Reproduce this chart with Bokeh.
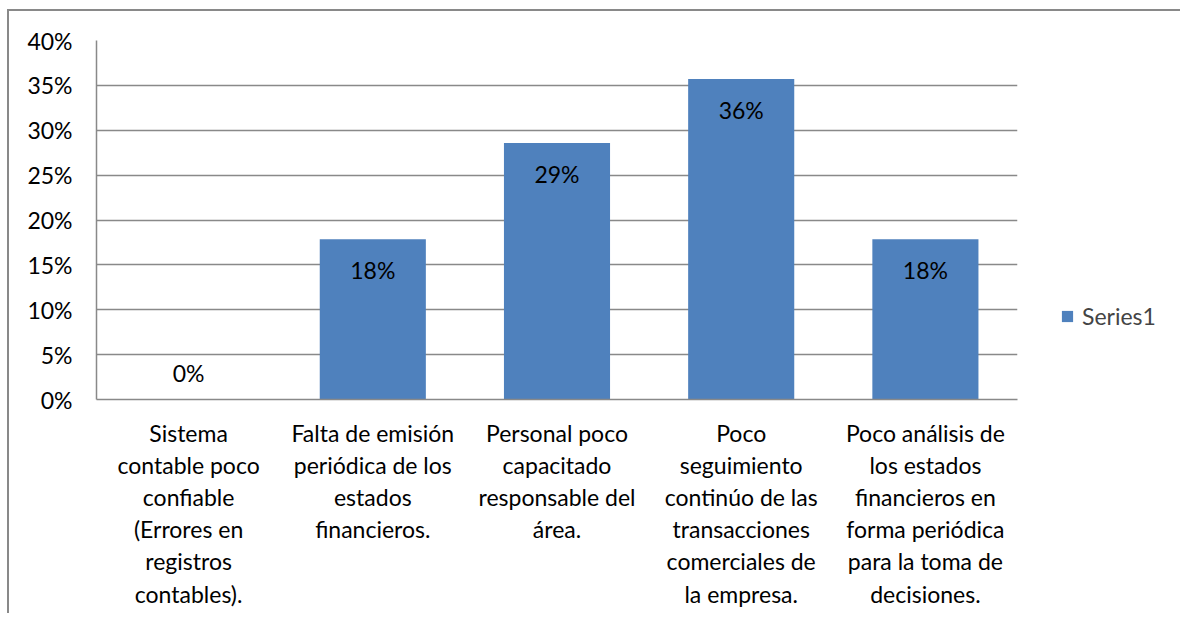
from bokeh.plotting import figure
from bokeh.models import (ColumnDataSource, FactorRange, FixedTicker, NumeralTickFormatter,
                          Legend, LegendItem, LabelSet)
from bokeh.embed import file_html
from bokeh.resources import INLINE
from bokeh.core.properties import value

categories = [
    "Sistema\ncontable poco\nconfiable\n(Errores en\nregistros\ncontables).",
    "Falta de emisión\nperiódica de los\nestados\nfinancieros.",
    "Personal poco\ncapacitado\nresponsable del\nárea.",
    "Poco\nseguimiento\ncontinúo de las\ntransacciones\ncomerciales de\nla empresa.",
    "Poco análisis de\nlos estados\nfinancieros en\nforma periódica\npara la toma de\ndecisiones.",
]
values = [0.0, 0.1786, 0.2857, 0.3571, 0.1786]
labels = ["0%", "18%", "29%", "36%", "18%"]
y_ticks = [0, 0.05, 0.10, 0.15, 0.20, 0.25, 0.30, 0.35, 0.40]
series_name = "Series1"

FONT = "Lato"
FS = "23px"
BAR = "#4F81BD"
GRID = "#898989"

src = ColumnDataSource(dict(
    x=categories, top=values, label=labels,
    yoff=[27 if v < 0.03 else -31 for v in values],
))

p = figure(x_range=FactorRange(*categories, range_padding=0), y_range=(0, 0.4),
           frame_width=921, frame_height=359, output_backend="svg", toolbar_location=None,
           min_border_left=96, min_border_right=155, min_border_top=40, min_border_bottom=214)
# chart-area border (top and left edges; right/bottom lie beyond the window)
p.styles = {
    "background-color": "white",
    "background-image": f"linear-gradient({GRID}, {GRID}), linear-gradient({GRID}, {GRID})",
    "background-size": "2px 100%, 100% 2px",
    "background-position": "7px 9px, 7px 9px",
    "background-repeat": "no-repeat",
}
p.outline_line_color = None
p.background_fill_color = "white"
p.border_fill_alpha = 0

r = p.vbar(x="x", top="top", width=0.576, source=src, fill_color=BAR, line_color=None)

p.add_layout(LabelSet(x="x", y="top", text="label", source=src, y_offset="yoff",
                      text_align="center", text_baseline="middle",
                      text_font=value(FONT), text_font_size=FS, text_color="black"))

p.yaxis.ticker = FixedTicker(ticks=y_ticks)
p.yaxis.formatter = NumeralTickFormatter(format="0%")
for ax in (p.xaxis, p.yaxis):
    ax.major_tick_line_color = None
    ax.minor_tick_line_color = None
    ax.major_tick_out = 0
    ax.major_tick_in = 0
    ax.axis_line_color = GRID
    ax.axis_line_width = 1.5
    ax.major_label_text_font = FONT
    ax.major_label_text_font_size = FS
    ax.major_label_text_color = "black"
p.yaxis.major_label_standoff = 24
p.xaxis.major_label_standoff = 19
p.xaxis.major_label_text_line_height = 1.15

p.xgrid.grid_line_color = None
p.ygrid.grid_line_color = GRID
p.ygrid.grid_line_width = 1.5

legend = Legend(items=[LegendItem(label=series_name, renderers=[r])],
                location=(43, 69), glyph_width=14, glyph_height=14,
                label_standoff=8, padding=0, margin=0, border_line_color=None,
                background_fill_alpha=0, label_text_font=FONT,
                label_text_font_size=FS, label_height=24)
p.add_layout(legend, "right")

open("out.html", "w").write(file_html(p, INLINE))
